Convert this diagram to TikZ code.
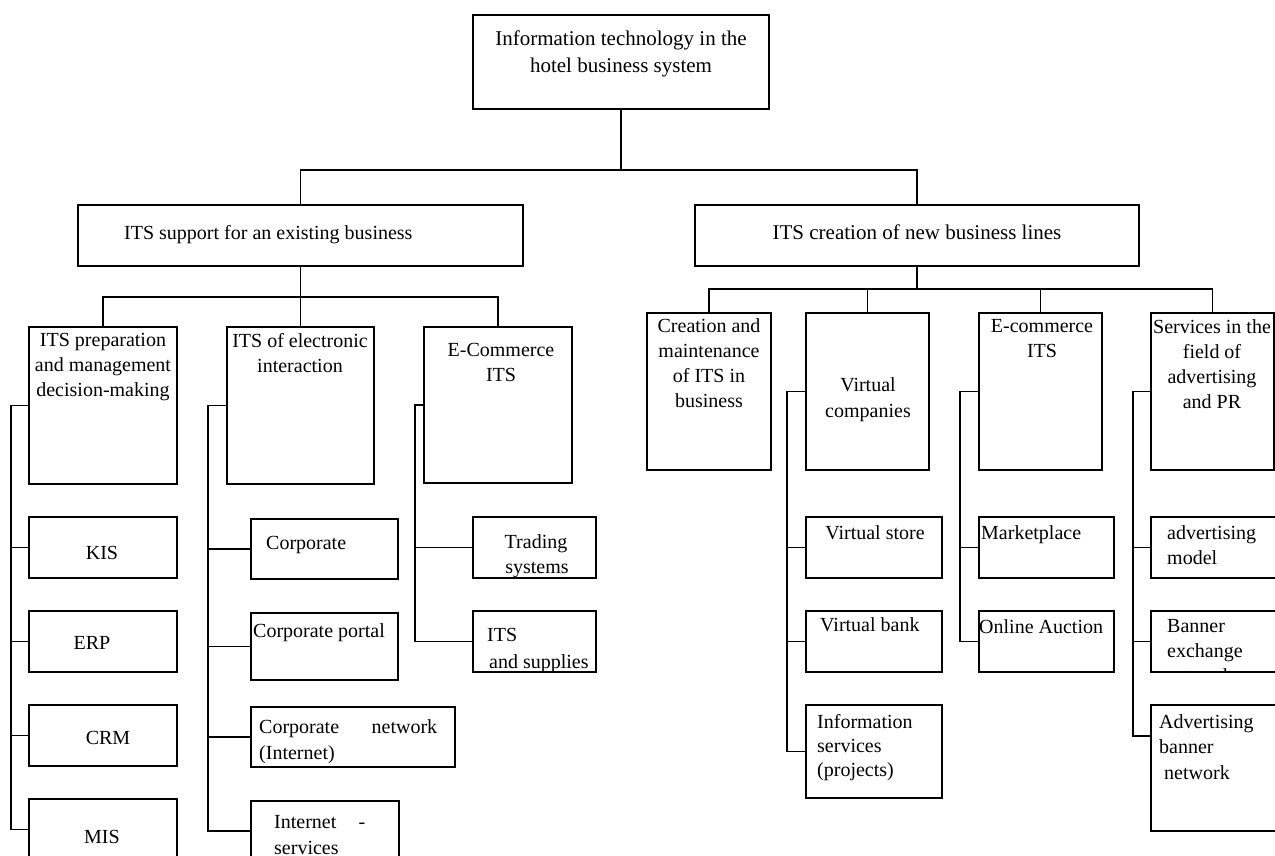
\documentclass[tikz,border=0pt]{standalone}
\usepackage{fontspec}
\setmainfont{Liberation Serif}
\begin{document}
\begin{tikzpicture}[x=1pt,y=-1pt,
  box/.style={draw, line width=1.1pt, inner sep=0pt, outer sep=0pt, anchor=north west},
  txt/.style={inner sep=0pt, font=\fontsize{20}{25}\selectfont},
  bigtxt/.style={inner sep=0pt, font=\fontsize{21}{27}\selectfont},
  conn/.style={line width=1.1pt}]
\useasboundingbox (0,0) rectangle (1275,856);
\clip (0,0) rectangle (1275,856);
\fill[white] (0,0) rectangle (1275,856);

% boxes
\node[box, minimum width=296, minimum height=94] (T) at (473,15) {};
\node[box, minimum width=445, minimum height=61] (S1) at (78,205) {};
\node[box, minimum width=444, minimum height=61] (S2) at (695,205) {};
\node[box, minimum width=148, minimum height=157] (A1) at (29,327) {};
\node[box, minimum width=147, minimum height=157] (A2) at (227,327) {};
\node[box, minimum width=148, minimum height=156] (A3) at (424,327) {};
\node[box, minimum width=148, minimum height=61] (KIS) at (29,517) {};
\node[box, minimum width=148, minimum height=61] (ERP) at (29,611) {};
\node[box, minimum width=148, minimum height=61] (CRM) at (29,705) {};
\node[box, minimum width=148, minimum height=61] (MIS) at (29,799) {};
\node[box, minimum width=147, minimum height=60] (CORP) at (251,519) {};
\node[box, minimum width=147, minimum height=67] (PORT) at (251,613) {};
\node[box, minimum width=204, minimum height=60] (NET) at (251,707) {};
\node[box, minimum width=148, minimum height=60] (INET) at (251,801) {};
\node[box, minimum width=123, minimum height=61] (TRAD) at (473,517) {};
\node[box, minimum width=123, minimum height=61] (SUPP) at (473,611) {};
\node[box, minimum width=124, minimum height=157] (B1) at (647,313) {};
\node[box, minimum width=123, minimum height=157] (B2) at (806,313) {};
\node[box, minimum width=123, minimum height=157] (B3) at (979,313) {};
\node[box, minimum width=123, minimum height=157] (B4) at (1151,313) {};
\node[box, minimum width=136, minimum height=61] (VS) at (806,517) {};
\node[box, minimum width=136, minimum height=61] (VB) at (806,611) {};
\node[box, minimum width=136, minimum height=93] (IS) at (806,705) {};
\node[box, minimum width=135, minimum height=61] (MP) at (979,517) {};
\node[box, minimum width=135, minimum height=61] (OA) at (979,611) {};
\node[box, minimum width=140, minimum height=61] (AM) at (1151,517) {};
\node[box, minimum width=140, minimum height=61] (BE) at (1151,611) {};
\node[box, minimum width=140, minimum height=126] (ABN) at (1151,705) {};

% texts
\node[bigtxt, align=center, anchor=north] (tT) at (621,31) {Information technology in the\\hotel business system};
\node[txt, anchor=north west] (tS1) at (124,225) {ITS support for an existing business};
\node[bigtxt, anchor=north] (tS2) at (917,225) {ITS creation of new business lines};
\node[txt, align=center, anchor=north] (tA1) at (103,333) {ITS preparation\\and management\\decision-making};
\node[txt, align=center, anchor=north] (tA2) at (300,333) {ITS of electronic\\interaction};
\node[txt, align=center, anchor=north] (tA3) at (501,343) {E-Commerce\\ITS};
\node[txt] (tKIS) at (102,553) {KIS};
\node[txt] (tERP) at (92,643) {ERP};
\node[txt] (tCRM) at (108,738) {CRM};
\node[txt] (tMIS) at (102,837) {MIS};
\node[txt, anchor=north west] (tCORP) at (266,536) {Corporate};
\node[txt, anchor=north west] (tPORT) at (253,623) {Corporate portal};
\node[txt, align=left, anchor=north west, font=\fontsize{20}{26.5}\selectfont] (tNET) at (259,719) {\makebox[178pt][s]{Corporate network}\\(Internet)};
\node[txt, align=left, anchor=north west, font=\fontsize{20}{26}\selectfont] (tINET) at (274,815) {\makebox[91pt][s]{Internet -}\\services};
\node[txt, align=center, anchor=north] (tTRAD) at (536,534) {Trading\\\hspace*{2pt}systems};
\node[txt, align=left, anchor=north west, font=\fontsize{20}{27}\selectfont] (tSUPP) at (487,628) {ITS\\\hspace*{2pt}and supplies};
\node[txt, align=center, anchor=north] (tB1) at (709,318) {Creation and\\maintenance\\of ITS in\\business};
\node[txt, align=center, anchor=north, font=\fontsize{20}{26}\selectfont] (tB2) at (868,377) {Virtual\\companies};
\node[txt, align=center, anchor=north] (tB3) at (1042,319) {E-commerce\\ITS};
\node[txt, align=center, anchor=north] (tB4) at (1212,319) {Services in the\\field of\\advertising\\and PR};
\node[txt, anchor=north] (tVS) at (875,525) {Virtual store};
\node[txt, anchor=north west] (tVB) at (820,617) {Virtual bank};
\node[txt, align=left, anchor=north west, font=\fontsize{20}{24}\selectfont] (tIS) at (817,714) {Information\\services\\(projects)};
\node[txt, anchor=north west] (tMP) at (981,525) {Marketplace};
\node[txt, anchor=north west] (tOA) at (979,619) {Online Auction};
\node[txt, align=left, anchor=north west] (tAM) at (1167,525) {advertising\\model};
\begin{scope}
  \clip (BE.north west) rectangle (BE.south east);
  \node[txt, align=left, anchor=north west] (tBE) at (1167,619) {Banner\\exchange\\network};
\end{scope}
\node[txt, align=left, anchor=north west, font=\fontsize{20}{25.5}\selectfont] (tABN) at (1159,714) {Advertising\\banner\\\hspace*{5pt}network};

% connectors: top level
\coordinate (tj) at (621,170);
\draw[conn] (T.south) -- (T.south |- tj);
\draw[conn] (S1.north) -- (S1.north |- tj) -- (S2.north |- tj) -- (S2.north);

% left branch
\coordinate (s1j) at (301,297);
\draw[conn] (S1.south) -- (S1.south |- s1j);
\draw[conn] (A1.north) -- (A1.north |- s1j) -- (A3.north |- s1j) -- (A3.north);
\draw[conn] (A2.north) -- (A2.north |- s1j);

% right branch
\coordinate (s2j) at (917,289);
\draw[conn] (S2.south) -- (S2.south |- s2j);
\draw[conn] (B1.north) -- (B1.north |- s2j) -- (B4.north |- s2j) -- (B4.north);
\draw[conn] (B2.north) -- (B2.north |- s2j);
\draw[conn] (B3.north) -- (B3.north |- s2j);

% brackets
\draw[conn] (A1.west) -- ++(-18,0) coordinate (a1b) |- (MIS.west);
\foreach \c in {KIS,ERP,CRM} \draw[conn] (\c.west) -- (\c.west -| a1b);
\draw[conn] (A2.west) -- ++(-19,0) coordinate (a2b) |- (INET.west);
\foreach \c in {CORP,PORT,NET} \draw[conn] (\c.west) -- (\c.west -| a2b);
\draw[conn] (A3.west) -- ++(-9,0) coordinate (a3b) |- (SUPP.west);
\draw[conn] (TRAD.west) -- (TRAD.west -| a3b);
\draw[conn] (B2.west) -- ++(-19,0) coordinate (b2b) |- (IS.west);
\foreach \c in {VS,VB} \draw[conn] (\c.west) -- (\c.west -| b2b);
\draw[conn] (B3.west) -- ++(-19,0) coordinate (b3b) |- (OA.west);
\draw[conn] (MP.west) -- (MP.west -| b3b);
\draw[conn] (B4.west) -- ++(-18,0) coordinate (b4b) |- ([yshift=-31pt]ABN.north west);
\foreach \c in {AM,BE} \draw[conn] (\c.west) -- (\c.west -| b4b);
\end{tikzpicture}
\end{document}
